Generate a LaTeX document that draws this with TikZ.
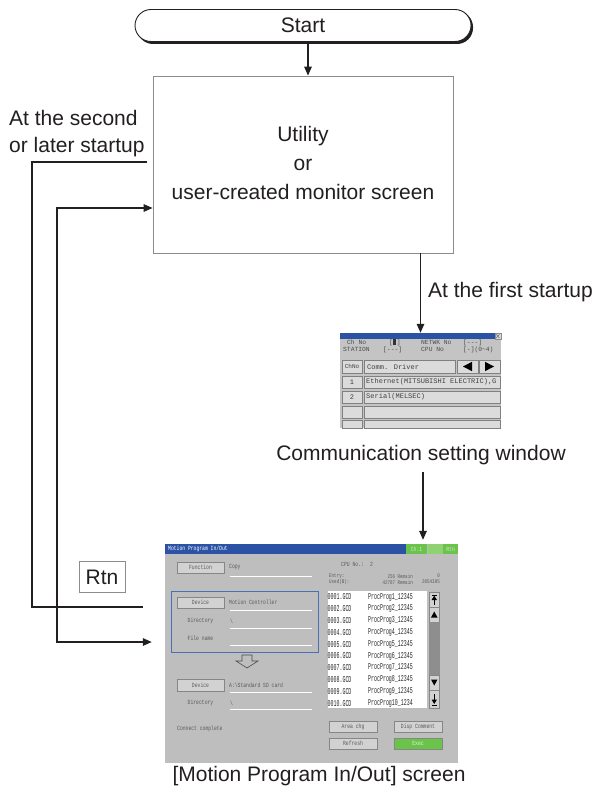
\documentclass[tikz,border=0pt]{standalone}
\usepackage{fontspec}
\setmainfont{Liberation Sans}
\newfontfamily\lcd[FakeStretch=0.75]{Liberation Mono}
\newfontfamily\lcdl[FakeStretch=0.55]{Liberation Mono}
\newfontfamily\cmono{Liberation Mono}
\usetikzlibrary{arrows.meta}
\definecolor{linec}{HTML}{231F20}
\definecolor{txtc}{HTML}{231F20}
\definecolor{boxgray}{HTML}{8C8C8C}
\definecolor{bluebar}{HTML}{2C52A6}
\definecolor{scrbg}{HTML}{BEBEBE}
\definecolor{cwbg}{HTML}{C4C4C4}
\definecolor{btnfill}{HTML}{D2D2D2}
\definecolor{btnedge}{HTML}{868686}
\definecolor{scrtext}{HTML}{5A5A5A}
\definecolor{greenc}{HTML}{6AC44A}
\definecolor{greenl}{HTML}{8ED274}
\definecolor{boxblue}{HTML}{4A6FB5}
\definecolor{track}{HTML}{8E8E8E}
\tikzset{
  flow/.style={line width=1.4pt, draw=linec},
  arr/.style={flow, -{Triangle[length=9pt,width=7.5pt]}},
  biarr/.style={flow, {Triangle[length=9pt,width=7.5pt]}-{Triangle[length=9pt,width=7.5pt]}},
  lbl/.style={font=\fontsize{21}{26}\selectfont, text=txtc, inner sep=0pt},
  scrtxt/.style={font=\fontsize{6.3}{7}\lcd, text=scrtext, inner sep=0pt},
  smalltxt/.style={font=\fontsize{5.6}{6}\lcd, text=scrtext, inner sep=0pt},
  listtxt/.style={font=\fontsize{9}{10}\lcdl, text=black!85, inner sep=0pt, anchor=west},
  cwtxt/.style={font=\fontsize{7}{8}\cmono, text=black!75, inner sep=0pt},
  cwinfo/.style={font=\fontsize{6.3}{7}\cmono, text=black!70, inner sep=0pt, anchor=west},
  sbtn/.style={draw=btnedge, fill=btnfill, line width=0.5pt},
  cwbtn/.style={draw=black!50, fill=black!14, line width=0.5pt},
  wline/.style={draw=white, line width=0.7pt}
}
\begin{document}
\begin{tikzpicture}[x=1pt,y=-1pt]
\useasboundingbox[fill=white] (0,0) rectangle (597,792);

% ---------- Start terminal ----------
\fill[linec, rounded corners=16pt] (137,11) rectangle (473,44);
\node[draw=linec, fill=white, line width=0.9pt, rounded corners=16pt,
      minimum width=336pt, minimum height=32pt, inner sep=0pt,
      font=\fontsize{21}{26}\selectfont, text=txtc] (start) at (303,25.5) {Start};

% ---------- Utility box ----------
\node[draw=boxgray, line width=0.8pt, minimum width=300pt, minimum height=177pt,
      inner sep=0pt] (util) at (303,164.5) {};
\node[lbl, align=center, font=\fontsize{21}{29}\selectfont] (utiltxt) at (303,163)
  {Utility\\or\\user-created monitor screen};

\draw[arr] ([xshift=5pt]start.south) -- ([xshift=5pt]start.south |- util.north);

% ---------- Left labels and loops ----------
\node[lbl, align=left, anchor=west, font=\fontsize{21}{27}\selectfont] (second) at (9,133.5)
  {At the second\\or later startup};

\coordinate (o1) at (147,162);
\coordinate (o2) at (143,607);
\draw[flow] (o1) -- (32,162) -- (32,607) -- (o2);

% ---------- Communication setting window ----------
\node[fill=cwbg, minimum width=161pt, minimum height=95pt, inner sep=0pt] (comm) at (420.5,380.5) {};
\fill[bluebar] (340,333) rectangle (494.5,339);
\draw[fill=white!85!black, draw=black!45, line width=0.4pt] (495,333.3) rectangle (500.7,339);
\draw[black!60, line width=0.5pt] (496.3,334.4) -- (499.4,337.9) (496.3,337.9) -- (499.4,334.4);

\node[cwinfo] at (347,342.5) {Ch No};
\node[cwinfo] at (389,342.5) {[ ]};
\fill[black!80] (393.2,339.4) rectangle (396.4,345.4);
\node[cwinfo] at (421,342.5) {NETWK No};
\node[cwinfo] at (463,342.5) {[---]};
\node[cwinfo] at (343,349.5) {STATION};
\node[cwinfo] at (383,349.5) {[---]};
\node[cwinfo] at (421,349.5) {CPU No};
\node[cwinfo] at (463,349.5) {[-](0\textasciitilde 4)};

\draw[cwbtn] (342,360) rectangle (362,373);
\node[cwtxt, font=\fontsize{6}{7}\cmono] at (352,366.5) {ChNo};
\draw[cwbtn] (364,360) rectangle (455,373);
\node[cwtxt, anchor=west] at (367,366.5) {Comm. Driver};
\draw[cwbtn] (457,360) rectangle (478,373);
\fill[black] (463,366.5) -- (472,361.8) -- (472,371.2) -- cycle;
\draw[cwbtn] (479.5,360) rectangle (500,373);
\fill[black] (494,366.5) -- (485,361.8) -- (485,371.2) -- cycle;

\draw[cwbtn] (342,376) rectangle (362,388);
\node[cwtxt] at (352,382) {1};
\draw[cwbtn] (364,376) rectangle (500,388);
\node[cwtxt, anchor=west] at (366,382) {Ethernet(MITSUBISHI ELECTRIC),G};

\draw[cwbtn] (342,391) rectangle (362,403);
\node[cwtxt] at (352,397) {2};
\draw[cwbtn] (364,391) rectangle (500,403);
\node[cwtxt, anchor=west] at (366,397) {Serial(MELSEC)};

\draw[cwbtn] (342,406) rectangle (362,418);
\draw[cwbtn] (364,406) rectangle (500,418);
\draw[cwbtn] (342,420.5) rectangle (362,428);
\draw[cwbtn] (364,420.5) rectangle (500,428);

\draw[arr] (util.south -| comm.north) -- (comm.north);
\node[lbl, anchor=west] (first) at (428,292) {At the first startup};

\node[lbl] (commlbl) at (421,455) {Communication setting window};

% ---------- Motion Program In/Out screen ----------
\node[fill=scrbg, minimum width=293pt, minimum height=219pt, inner sep=0pt] (screen) at (311.5,653.5) {};
\fill[bluebar] (165,544) rectangle (406,554);
\node[scrtxt, text=white, anchor=west] at (168,549) {Motion Program In/Out};
\fill[greenc] (406,544) rectangle (427,554);
\node[scrtxt, text=white!88!black] at (416.5,549) {Ch:1};
\fill[greenl] (427.6,544) rectangle (442.6,554);
\fill[greenc] (443.2,544) rectangle (458,554);
\node[scrtxt, text=white!88!black] at (450.6,549) {Rtn};

\coordinate (a3) at (423,472);
\draw[arr, shorten >=4pt] (a3) -- (a3 |- screen.north);

% left half of screen
\draw[sbtn] (177,562) rectangle (224,573);
\node[scrtxt] at (200.5,567.5) {Function};
\node[scrtxt, anchor=west] at (229,567.5) {Copy};
\draw[wline] (230,576) -- (312,576);

\draw[draw=boxblue, line width=0.8pt] (171,591) rectangle (318,652);
\draw[sbtn] (177,597) rectangle (224,608);
\node[scrtxt] at (200.5,602.5) {Device};
\node[scrtxt, anchor=west] at (229,602.5) {Motion Controller};
\draw[wline] (230,610) -- (312,610);
\node[scrtxt] at (200.5,621) {Directory};
\node[scrtxt, anchor=west] at (230,621) {\textbackslash};
\draw[wline] (230,628) -- (312,628);
\node[scrtxt] at (200.5,638) {File name};
\draw[wline] (230,645) -- (312,645);

\draw[black!70, line width=0.6pt, fill=scrbg]
  (242,655) -- (252,655) -- (252,661) -- (258,661) -- (247,668) -- (236,661) -- (242,661) -- cycle;

\draw[sbtn] (177,679) rectangle (224,691);
\node[scrtxt] at (200.5,685) {Device};
\node[scrtxt, anchor=west] at (229,685) {A:\textbackslash Standard SD card};
\draw[wline] (230,692.5) -- (312,692.5);
\node[scrtxt] at (200.5,703) {Directory};
\node[scrtxt, anchor=west] at (230,703) {\textbackslash};
\draw[wline] (230,709.5) -- (312,709.5);
\node[scrtxt, anchor=west] at (177,729) {Connect complete};

% right half of screen
\node[scrtxt, anchor=west] at (341,564) {CPU No.:};
\node[scrtxt, anchor=west] at (370,564) {2};
\node[smalltxt, anchor=west] at (329,576) {Entry:};
\node[smalltxt, anchor=east] at (413,576) {256 Remain};
\node[smalltxt, anchor=east] at (440,576) {0};
\node[smalltxt, anchor=west] at (329,582) {Used(B):};
\node[smalltxt, anchor=east] at (413,582) {42787 Remain};
\node[smalltxt, anchor=east] at (440,582) {2054305};

\fill[white] (327.5,591) rectangle (427,708);
\foreach \k/\f/\p in {0/0001/ProcProg1\_12345, 1/0002/ProcProg2\_12345, 2/0003/ProcProg3\_12345,
                      3/0004/ProcProg4\_12345, 4/0005/ProcProg5\_12345, 5/0006/ProcProg6\_12345,
                      6/0007/ProcProg7\_12345, 7/0008/ProcProg8\_12345, 8/0009/ProcProg9\_12345,
                      9/0010/ProcProg10\_1234}{
  \node[listtxt] at (327.5,597+11.8*\k) {\f.GCD};
  \node[listtxt] at (368,597+11.8*\k) {\p};
}

\draw[sbtn] (429,592) rectangle (439.5,607);
\fill[black] (431.5,594.5) rectangle (437,595.3);
\fill[black] (434.25,595.8) -- (437,600) -- (431.5,600) -- cycle;
\fill[black] (433.9,600) rectangle (434.6,604.5);
\draw[sbtn] (429,607) rectangle (439.5,622);
\fill[black] (434.25,611.5) -- (437.5,617.5) -- (431,617.5) -- cycle;
\fill[track] (429,622) rectangle (439.5,675);
\draw[sbtn] (429,675) rectangle (439.5,690);
\fill[black] (434.25,685.5) -- (437.5,679.5) -- (431,679.5) -- cycle;
\draw[sbtn] (429,690) rectangle (439.5,708);
\fill[black] (431.5,704.5) rectangle (437,705.3);
\fill[black] (434.25,704) -- (437,699.5) -- (431.5,699.5) -- cycle;
\fill[black] (433.9,694) rectangle (434.6,699.5);

\draw[sbtn] (329,721) rectangle (377,732);
\node[scrtxt] at (353,726.5) {Area chg};
\draw[sbtn] (394,721) rectangle (442,732);
\node[scrtxt] at (418,726.5) {Disp Comment};
\draw[sbtn] (329,738) rectangle (377,749);
\node[scrtxt] at (353,743.5) {Refresh};
\draw[draw=btnedge, fill=greenc, line width=0.5pt] (394,738) rectangle (442,749);
\node[scrtxt, text=white!80!greenc] at (418,743.5) {Exec};

\node[lbl] (scrlbl) at (319,776) {[Motion Program In/Out] screen};

% ---------- Rtn and return loop ----------
\node[draw=boxgray, line width=0.6pt, minimum width=46pt, minimum height=31pt, inner sep=0pt,
      font=\fontsize{21}{26}\selectfont, text=txtc] (rtn) at (102,577) {Rtn};

\draw[biarr, shorten >=13pt] (util.west |- 0,208) -- (57,208) -- (57,642) -- (screen.west |- 0,642);

\end{tikzpicture}
\end{document}
